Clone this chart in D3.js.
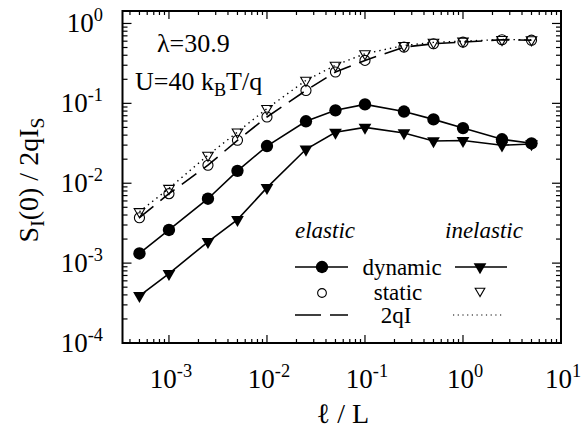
<!DOCTYPE html>
<html><head><meta charset="utf-8">
<script src="https://cdn.jsdelivr.net/npm/d3@7"></script>
<style>
html,body{margin:0;padding:0;background:#fff;}
svg{display:block;}
</style></head>
<body>
<svg id="chart" width="581" height="434"></svg>
<script>
// ---- data ----
const lengthRatio = [5e-4, 1e-3, 2.5e-3, 5e-3, 1e-2, 2.5e-2, 5e-2, 0.1, 0.25, 0.5, 1, 2.5, 5];
const elasticDynamic   = [1.32e-3, 2.6e-3, 6.4e-3, 0.0143, 0.0292, 0.0596, 0.0818, 0.097, 0.079, 0.063, 0.049, 0.0355, 0.0316];
const inelasticDynamic = [3.9e-4, 7.4e-4, 1.85e-3, 3.5e-3, 8.8e-3, 0.0266, 0.0434, 0.050, 0.0426, 0.0338, 0.0342, 0.0299, 0.031];
const elasticStatic    = [3.7e-3, 7.4e-3, 0.0168, 0.0345, 0.0675, 0.145, 0.247, 0.345, 0.506, 0.557, 0.584, 0.625, 0.617];
const inelasticStatic  = [4.4e-3, 8.6e-3, 0.0224, 0.0437, 0.086, 0.194, 0.30, 0.418, 0.53, 0.58, 0.60, 0.63, 0.625];
const xTickExps = [-3, -2, -1, 0, 1];
const yTickExps = [-4, -3, -2, -1, 0];

// ---- layout ----
const FONT = '"Times New Roman", Tinos, "Liberation Serif", serif';
const L = 122.5, R = 561, T = 11, B = 343;
const svg = d3.select("#chart");
const x = d3.scaleLog().domain([Math.pow(10, -3.474), 10]).range([L, R]);
const y = d3.scaleLog().domain([1e-4, Math.pow(10, 0.156)]).range([B, T]);

const pts = arr => lengthRatio.map((v,i) => [x(v), y(arr[i])]);
const line = d3.line();
const plot = svg.append("g");
plot.append("path").attr("d", line(pts(inelasticStatic))).attr("fill","none").attr("stroke","#000")
  .attr("stroke-width",1.4).attr("stroke-dasharray","1.4 4");
plot.append("path").attr("d", line(pts(elasticStatic))).attr("fill","none").attr("stroke","#000")
  .attr("stroke-width",1.6).attr("stroke-dasharray","18 9");
plot.append("path").attr("d", line(pts(elasticDynamic))).attr("fill","none").attr("stroke","#000").attr("stroke-width",1.6);
plot.append("path").attr("d", line(pts(inelasticDynamic))).attr("fill","none").attr("stroke","#000").attr("stroke-width",1.6);

const circ = d3.symbol().type(d3.symbolCircle);
const tri = d3.symbol().type(d3.symbolTriangle);
function markers(arr, kind){
  plot.append("g").selectAll("path").data(pts(arr)).join("path")
    .attr("transform", d => `translate(${d[0]},${d[1]})` + (kind.tri ? " rotate(180)" : ""))
    .attr("d", kind.tri ? tri.size(kind.size)() : circ.size(kind.size)())
    .attr("fill", kind.fill ? "#000" : "#fff").attr("fill-opacity", kind.fill ? 1 : 0)
    .attr("stroke","#000").attr("stroke-width", kind.fill ? 0 : 1.1);
}
markers(elasticStatic, {size:80, fill:false});
markers(inelasticStatic, {size:48, fill:false, tri:true});
markers(elasticDynamic, {size:120, fill:true});
markers(inelasticDynamic, {size:70, fill:true, tri:true});

// ticks from the scales (inward)
const xMinor = x.ticks().filter(v => v >= x.domain()[0] && v <= 10);
const yMinor = y.ticks().filter(v => v >= 1e-4 && v <= y.domain()[1]);
const tk = svg.append("g").attr("stroke","#000").attr("stroke-width",1.2);
function isMajor(v){ return Math.abs(Math.log10(v) - Math.round(Math.log10(v))) < 1e-9; }
xMinor.forEach(v => {
  const len = isMajor(v) ? 8 : 4, px = x(v);
  tk.append("line").attr("x1",px).attr("x2",px).attr("y1",B).attr("y2",B-len);
  tk.append("line").attr("x1",px).attr("x2",px).attr("y1",T).attr("y2",T+len);
});
yMinor.forEach(v => {
  const len = isMajor(v) ? 9 : 5, py = y(v);
  tk.append("line").attr("x1",L).attr("x2",L+len).attr("y1",py).attr("y2",py);
  tk.append("line").attr("x1",R).attr("x2",R-len).attr("y1",py).attr("y2",py);
});
svg.append("rect").attr("x",L).attr("y",T).attr("width",R-L).attr("height",B-T)
  .attr("fill","none").attr("stroke","#000").attr("stroke-width",2);

// texts
const TX = svg.append("g").style("font-family", FONT);
function txt(){ return TX.append("text").style("font-family", FONT).attr("fill","#000"); }
function powLabel(sel, e){
  sel.append("tspan").text("10");
  sel.append("tspan").attr("font-size","0.68em").attr("dy","-0.62em").text(e < 0 ? "-" + (-e) : String(e));
}
xTickExps.forEach(e => {
  const t = txt().attr("x", x(Math.pow(10,e)) + 2).attr("y", 388)
    .attr("text-anchor","middle").attr("font-size",27);
  powLabel(t, e);
});
yTickExps.forEach(e => {
  const t = txt().attr("x", 103).attr("y", y(Math.pow(10,e)) + 9)
    .attr("text-anchor","end").attr("font-size",27);
  powLabel(t, e);
});
txt().attr("x", 343).attr("y", 423).attr("text-anchor","middle").attr("font-size",28).text("ℓ / L");
const yt = txt().attr("transform","translate(38,180) rotate(-90)").attr("text-anchor","middle").attr("font-size",28);
yt.append("tspan").text("S");
yt.append("tspan").attr("font-size","0.7em").attr("dy","0.3em").text("I");
yt.append("tspan").attr("dy","-0.21em").text("(0) / 2qI");
yt.append("tspan").attr("font-size","0.7em").attr("dy","0.3em").text("S");

txt().attr("x",157).attr("y",52).attr("font-size",26).text("λ=30.9");
const ut = txt().attr("x",135).attr("y",90).attr("font-size",26);
ut.append("tspan").text("U=40 k");
ut.append("tspan").attr("font-size","0.7em").attr("dy","0.32em").text("B");
ut.append("tspan").attr("dy","-0.22em").text("T/q");

// legend
const lg = svg.append("g");
lg.append("line").attr("x1",295).attr("x2",348).attr("y1",267).attr("y2",267).attr("stroke","#000").attr("stroke-width",1.6);
lg.append("path").attr("transform","translate(322,267)").attr("d", circ.size(120)());
lg.append("line").attr("x1",455).attr("x2",507).attr("y1",267).attr("y2",267).attr("stroke","#000").attr("stroke-width",1.6);
lg.append("path").attr("transform","translate(480,267) rotate(180)").attr("d", tri.size(70)());
lg.append("path").attr("transform","translate(322,293)").attr("d", circ.size(60)()).attr("fill","none").attr("stroke","#000").attr("stroke-width",1.1);
lg.append("path").attr("transform","translate(480,291) rotate(180)").attr("d", tri.size(40)()).attr("fill","none").attr("stroke","#000").attr("stroke-width",1.1);
lg.append("line").attr("x1",295).attr("x2",348).attr("y1",315).attr("y2",315).attr("stroke","#000").attr("stroke-width",1.6).attr("stroke-dasharray","26 9");
lg.append("line").attr("x1",453).attr("x2",502).attr("y1",315).attr("y2",315).attr("stroke","#000").attr("stroke-width",1.2).attr("stroke-dasharray","1.2 3.5");
txt().attr("x",295).attr("y",238).attr("font-size",23).attr("font-style","italic").text("elastic");
txt().attr("x",445).attr("y",238).attr("font-size",23).attr("font-style","italic").text("inelastic");
txt().attr("x",402).attr("y",275).attr("text-anchor","middle").attr("font-size",23).text("dynamic");
txt().attr("x",398).attr("y",300).attr("text-anchor","middle").attr("font-size",23).text("static");
txt().attr("x",396).attr("y",323).attr("text-anchor","middle").attr("font-size",23).text("2qI");
</script>
</body></html>
